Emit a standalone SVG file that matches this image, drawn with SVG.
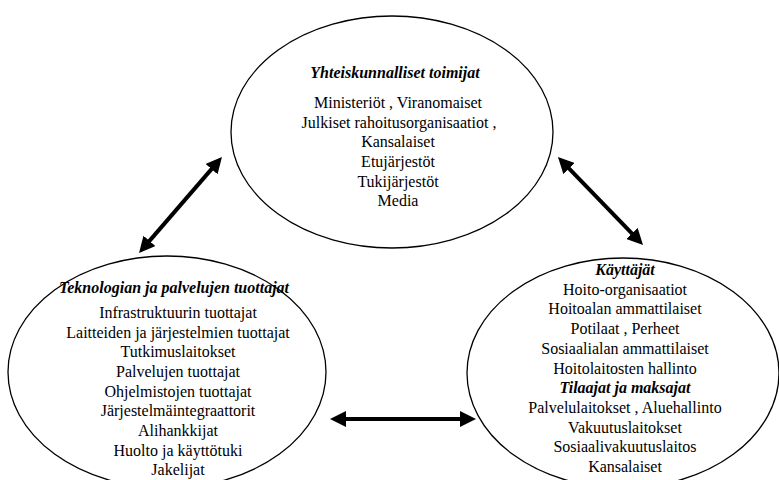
<svg xmlns="http://www.w3.org/2000/svg" width="779" height="480" viewBox="0 0 779 480">
<style>
.node ellipse{fill:none;stroke:#000;stroke-width:1.3}
text{font-family:"Liberation Serif","Times New Roman",serif;font-size:16px;fill:#000;text-anchor:middle}
.h{font-weight:bold;font-style:italic}
.conn line{stroke:#000;stroke-width:4}
</style>
<defs>
<marker id="ah" markerUnits="userSpaceOnUse" markerWidth="16" markerHeight="16" viewBox="0 0 16 16" refX="2" refY="8" orient="auto-start-reverse">
<path d="M0,0 L16,8 L0,16 z" fill="#000"/>
</marker>
</defs>
<rect width="779" height="480" fill="#fff"/>
<g id="yhteiskunnalliset" class="node">
<ellipse cx="392" cy="132" rx="161" ry="116"/>
<text class="h" x="395" y="78">Yhteiskunnalliset toimijat</text>
<text x="398" y="108">Ministeriöt , Viranomaiset</text>
<text x="399" y="128">Julkiset rahoitusorganisaatiot ,</text>
<text x="398" y="147">Kansalaiset</text>
<text x="398" y="167">Etujärjestöt</text>
<text x="398" y="187">Tukijärjestöt</text>
<text x="398" y="206">Media</text>
</g>
<g id="teknologia" class="node">
<ellipse cx="167" cy="372" rx="159" ry="116"/>
<text class="h" x="174" y="293">Teknologian ja palvelujen tuottajat</text>
<text x="178" y="318">Infrastruktuurin tuottajat</text>
<text x="178" y="337.6">Laitteiden ja järjestelmien tuottajat</text>
<text x="178" y="357.3">Tutkimuslaitokset</text>
<text x="178" y="377">Palvelujen tuottajat</text>
<text x="178" y="396.6">Ohjelmistojen tuottajat</text>
<text x="178" y="416.3">Järjestelmäintegraattorit</text>
<text x="178" y="436">Alihankkijat</text>
<text x="178" y="455.6">Huolto ja käyttötuki</text>
<text x="178" y="475.3">Jakelijat</text>
</g>
<g id="kayttajat" class="node">
<ellipse cx="623" cy="373" rx="156" ry="115"/>
<text class="h" x="625" y="275">Käyttäjät</text>
<text x="625" y="294.7">Hoito-organisaatiot</text>
<text x="625" y="314.4">Hoitoalan ammattilaiset</text>
<text x="625" y="334">Potilaat , Perheet</text>
<text x="625" y="353.8">Sosiaalialan ammattilaiset</text>
<text x="625" y="373.5">Hoitolaitosten hallinto</text>
<text class="h" x="625" y="393.2">Tilaajat ja maksajat</text>
<text x="625" y="412.9">Palvelulaitokset , Aluehallinto</text>
<text x="625" y="432.6">Vakuutuslaitokset</text>
<text x="625" y="452.3">Sosiaalivakuutuslaitos</text>
<text x="625" y="472">Kansalaiset</text>
</g>
<g id="connectors" class="conn">
<line x1="148.2" y1="242.4" x2="212.8" y2="167.6" marker-start="url(#ah)" marker-end="url(#ah)"/>
<line x1="567.7" y1="167.1" x2="633.3" y2="234.9" marker-start="url(#ah)" marker-end="url(#ah)"/>
<line x1="344" y1="419" x2="462" y2="419" marker-start="url(#ah)" marker-end="url(#ah)"/>
</g>
</svg>
